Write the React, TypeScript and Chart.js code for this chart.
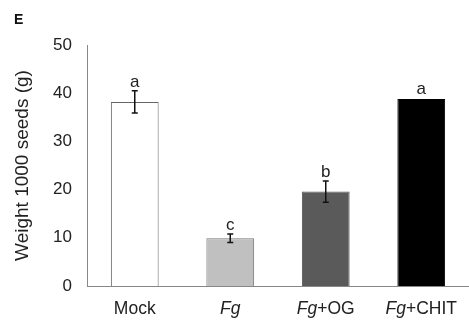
import React, { useEffect, useRef } from "react";
import { Chart, registerables } from "chart.js";

Chart.register(...registerables);

const categories = ["Mock", "Fg", "Fg+OG", "Fg+CHIT"];
const italicParts = ["", "Fg", "Fg", "Fg"];
const means = [38.2, 9.9, 19.6, 38.8];
const errors = [2.3, 0.9, 2.2, 0.15];
const letters = ["a", "c", "b", "a"];
const fills = ["#ffffff", "#c0c0c0", "#5a5a5a", "#000000"];
const yTicks = [0, 10, 20, 30, 40, 50];
const yTitle = "Weight 1000 seeds (g)";
const panelLabel = "E";

const FONT = "'Liberation Sans', Arial, Helvetica, sans-serif";
const TEXT = "#222222";

const overlay = {
  id: "overlay",
  afterDatasetsDraw(chart: any) {
    const ctx = chart.ctx;
    const xs = chart.scales.x;
    const ys = chart.scales.y;
    ctx.save();
    // error bars + letters
    means.forEach((m, i) => {
      const x = xs.getPixelForValue(i);
      const yt = ys.getPixelForValue(m + errors[i]);
      const yb = ys.getPixelForValue(m - errors[i]);
      ctx.strokeStyle = "#111";
      ctx.lineWidth = 1.5;
      if (errors[i] > 0.3) {
        ctx.beginPath();
        ctx.moveTo(x, yt);
        ctx.lineTo(x, yb);
        ctx.moveTo(x - 3, yt);
        ctx.lineTo(x + 3, yt);
        ctx.moveTo(x - 3, yb);
        ctx.lineTo(x + 3, yb);
        ctx.stroke();
      }
      ctx.fillStyle = TEXT;
      ctx.font = `17px ${FONT}`;
      ctx.textAlign = "center";
      ctx.textBaseline = "alphabetic";
      ctx.fillText(letters[i], x, Math.min(yt, ys.getPixelForValue(m)) - 4);
    });
    // x labels with italic parts
    const ly = xs.top + 23;
    const fs = 17.5;
    categories.forEach((c, i) => {
      const x = xs.getPixelForValue(i);
      const it = italicParts[i];
      const rest = c.slice(it.length);
      ctx.font = `italic ${fs}px ${FONT}`;
      const wi = it ? ctx.measureText(it).width : 0;
      ctx.font = `${fs}px ${FONT}`;
      const wr = ctx.measureText(rest).width;
      let sx = x - (wi + wr) / 2;
      ctx.textAlign = "left";
      ctx.textBaseline = "middle";
      ctx.fillStyle = TEXT;
      if (it) {
        ctx.font = `italic ${fs}px ${FONT}`;
        ctx.fillText(it, sx, ly);
        sx += wi;
      }
      ctx.font = `${fs}px ${FONT}`;
      ctx.fillText(rest, sx, ly);
    });
    // panel label
    ctx.font = `bold 14px ${FONT}`;
    ctx.textAlign = "left";
    ctx.textBaseline = "alphabetic";
    ctx.fillStyle = "#111";
    ctx.fillText(panelLabel, 14, 24);
    ctx.restore();
  },
};

export default function App() {
  const ref = useRef<HTMLCanvasElement>(null);
  useEffect(() => {
    if (!ref.current) return;
    const chart = new Chart(ref.current, {
      type: "bar",
      data: {
        labels: categories,
        datasets: [
          {
            data: means,
            backgroundColor: fills,
            borderColor: ["#666", "#777", "#555", "#000"],
            borderWidth: 1,
            barPercentage: 0.5,
            categoryPercentage: 1,
          },
        ],
      },
      options: {
        animation: false,
        responsive: false,
        layout: { padding: { top: 45, left: 0, right: 0, bottom: 0 } },
        plugins: { legend: { display: false }, tooltip: { enabled: false } },
        scales: {
          x: {
            grid: { display: false, drawTicks: false },
            border: { display: true, color: "#888", width: 1 },
            ticks: { display: false },
            afterFit(s: any) {
              s.height = 39;
            },
          },
          y: {
            min: 0,
            max: 50,
            afterBuildTicks(s: any) {
              s.ticks = yTicks.map((v) => ({ value: v }));
            },
            grid: { display: false, drawTicks: false },
            border: { display: true, color: "#888", width: 1 },
            ticks: {
              color: TEXT,
              font: { family: FONT, size: 17 },
              padding: 15,
            },
            title: {
              display: true,
              text: yTitle,
              color: TEXT,
              font: { family: FONT, size: 19 },
              padding: { top: 11, bottom: 0 },
            },
            afterFit(s: any) {
              s.width = 87;
            },
          },
        },
      },
      plugins: [overlay],
    });
    return () => chart.destroy();
  }, []);
  return (
    <div style={{ position: "absolute", left: 0, top: 0, width: 469, height: 325, background: "#fff" }}>
      <canvas ref={ref} width={469} height={325} />
    </div>
  );
}
